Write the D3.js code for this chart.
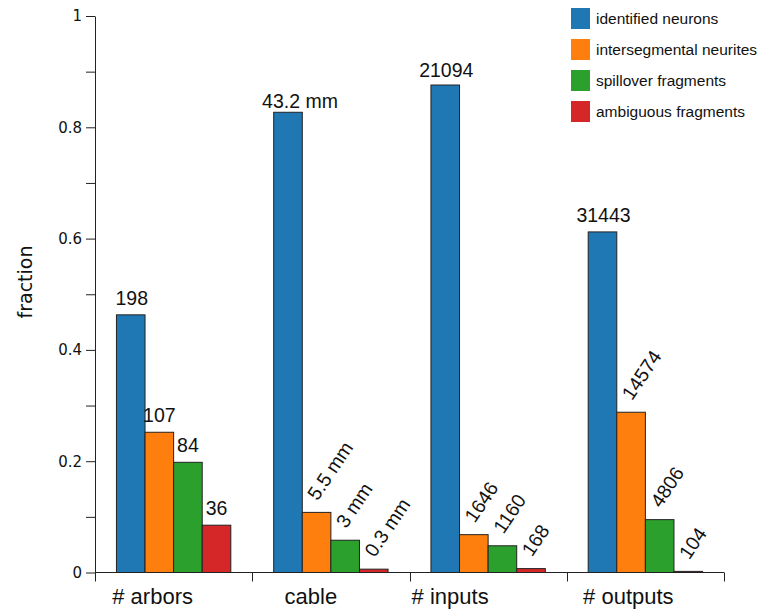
<!DOCTYPE html>
<html>
<head>
    <meta charset="utf-8">
    <title>Fractions</title>
    <script type="text/javascript" src="https://cdn.jsdelivr.net/npm/d3@7"></script>
    <style>
        body { margin: 0; background: #fff; }
        svg text { fill: #111; }
    </style>
</head>

<body>

<script type="text/javascript">

    // categories and series
    var groups = ["# arbors", "cable", "# inputs", "# outputs"];
    var series = ["identified neurons", "intersegmental neurites",
                  "spillover fragments", "ambiguous fragments"];
    var colors = ["#1f77b4", "#ff7f0e", "#2ca02c", "#d62728"];

    // fraction per group, one array per series
    var identified     = [0.463, 0.827, 0.876, 0.612];
    var intersegmental = [0.252, 0.108, 0.068, 0.288];
    var spillover      = [0.198, 0.058, 0.048, 0.095];
    var ambiguous      = [0.085, 0.006, 0.007, 0.002];

    // bar labels (absolute amounts)
    var identifiedLabels     = ["198", "43.2 mm", "21094", "31443"];
    var intersegmentalLabels = ["107", "5.5 mm", "1646", "14574"];
    var spilloverLabels      = ["84", "3 mm", "1160", "4806"];
    var ambiguousLabels      = ["36", "0.3 mm", "168", "104"];

    // which groups have tilted labels on the small bars
    var tilted = [false, true, true, true];

    var yTicks = [0, 0.1, 0.2, 0.3, 0.4, 0.5, 0.6, 0.7, 0.8, 0.9, 1];

    var values = [identified, intersegmental, spillover, ambiguous];
    var labels = [identifiedLabels, intersegmentalLabels, spilloverLabels, ambiguousLabels];

    var width = 760,
        height = 612,
        plotLeft = 95,
        plotRight = 724,
        plotTop = 16,
        plotBottom = 572.5;

    // hand nudges, the original is not perfectly regular
    var xLabelShift = [-21, -20, -38, -17];
    var topLabelNudge = [[1, 0], [12, 6], [1, 2], [1, 0]];

    var x0 = d3.scaleBand()
            .domain(groups)
            .range([plotLeft, plotRight]);

    var x1 = d3.scaleBand()
            .domain(series)
            .range([0, x0.bandwidth()])
            .paddingInner(0)
            .paddingOuter(0.75);

    var y = d3.scaleLinear()
            .domain([0, 1])
            .range([plotBottom, plotTop]);

    var svg = d3.select("body").append("svg")
            .attr("width", width)
            .attr("height", height);

    // flatten to one record per bar
    var bars = [];
    groups.forEach(function(g, gi){
        series.forEach(function(s, si){
            bars.push({group: g, gi: gi, series: s, si: si,
                       value: values[si][gi], label: labels[si][gi]});
        });
    });

    svg.selectAll("rect.bar")
            .data(bars)
        .enter()
            .append("rect")
            .attr("class", "bar")
            .attr("x", function(d){ return x0(d.group) + x1(d.series); })
            .attr("y", function(d){ return y(d.value); })
            .attr("width", x1.bandwidth())
            .attr("height", function(d){ return plotBottom - y(d.value); })
            .attr("fill", function(d){ return colors[d.si]; })
            .attr("stroke", "#222")
            .attr("stroke-width", 1);

    // value labels
    svg.selectAll("text.value")
            .data(bars)
        .enter()
            .append("text")
            .attr("class", "value")
            .attr("font-family", "'Liberation Sans', Arial, sans-serif")
            .attr("font-size", 19.5)
            .attr("text-anchor", function(d){
                return (tilted[d.gi] && d.si > 0) ? "start" : "middle";
            })
            .attr("transform", function(d){
                var cx = x0(d.group) + x1(d.series) + x1.bandwidth() / 2,
                    cy = y(d.value) - 10;
                if (tilted[d.gi] && d.si > 0)
                    return "translate(" + (cx + 1) + "," + (cy - 1) + ") rotate(-56)";
                if (d.si === 0) {
                    cx += topLabelNudge[d.gi][0];
                    cy += topLabelNudge[d.gi][1];
                }
                return "translate(" + cx + "," + cy + ")";
            })
            .text(function(d){ return d.label; });

    // y axis
    var yAxis = d3.axisLeft(y)
            .tickValues(yTicks)
            .tickSize(9)
            .tickSizeOuter(0)
            .tickPadding(4)
            .tickFormat(function(d, i){ return i % 2 === 0 ? d3.format("~g")(d) : ""; });

    var gy = svg.append("g")
            .attr("class", "axis")
            .attr("transform", "translate(" + plotLeft + ",0)")
            .call(yAxis);

    gy.selectAll("text")
            .attr("font-family", "'DejaVu Sans', sans-serif")
            .attr("font-size", 15)
            .attr("fill", "#111");
    gy.selectAll("line, path").attr("stroke", "#222");

    // x axis: baseline with ticks at the group boundaries
    var bounds = groups.map(function(g){ return x0(g); }).concat([plotRight]);

    svg.append("line")
            .attr("x1", plotLeft).attr("x2", plotRight)
            .attr("y1", plotBottom).attr("y2", plotBottom)
            .attr("stroke", "#222");

    svg.selectAll("line.xtick")
            .data(bounds)
        .enter()
            .append("line")
            .attr("class", "xtick")
            .attr("x1", function(d){ return Math.round(d) + 0.5; })
            .attr("x2", function(d){ return Math.round(d) + 0.5; })
            .attr("y1", plotBottom)
            .attr("y2", plotBottom + 9)
            .attr("stroke", "#222");

    svg.selectAll("text.xlabel")
            .data(groups)
        .enter()
            .append("text")
            .attr("class", "xlabel")
            .attr("x", function(d, i){ return x0(d) + x0.bandwidth() / 2 + xLabelShift[i]; })
            .attr("y", 604)
            .attr("text-anchor", "middle")
            .attr("font-family", "'Liberation Sans', Arial, sans-serif")
            .attr("font-size", 22)
            .text(function(d){ return d; });

    // y label
    svg.append("text")
            .attr("transform", "translate(32,282) rotate(-90)")
            .attr("text-anchor", "middle")
            .attr("font-family", "'DejaVu Sans', sans-serif")
            .attr("font-size", 19)
            .text("fraction");

    // legend
    var legend = svg.append("g")
            .attr("transform", "translate(571,8)");

    var item = legend.selectAll("g.item")
            .data(series)
        .enter()
            .append("g")
            .attr("class", "item")
            .attr("transform", function(d, i){ return "translate(0," + (i * 31) + ")"; });

    item.append("rect")
            .attr("width", 19)
            .attr("height", 21)
            .attr("fill", function(d, i){ return colors[i]; });

    item.append("text")
            .attr("x", 25)
            .attr("y", 10.5)
            .attr("dy", "0.35em")
            .attr("font-family", "'Liberation Sans', Arial, sans-serif")
            .attr("font-size", 15.5)
            .text(function(d){ return d; });
</script>

</body>

</html>
